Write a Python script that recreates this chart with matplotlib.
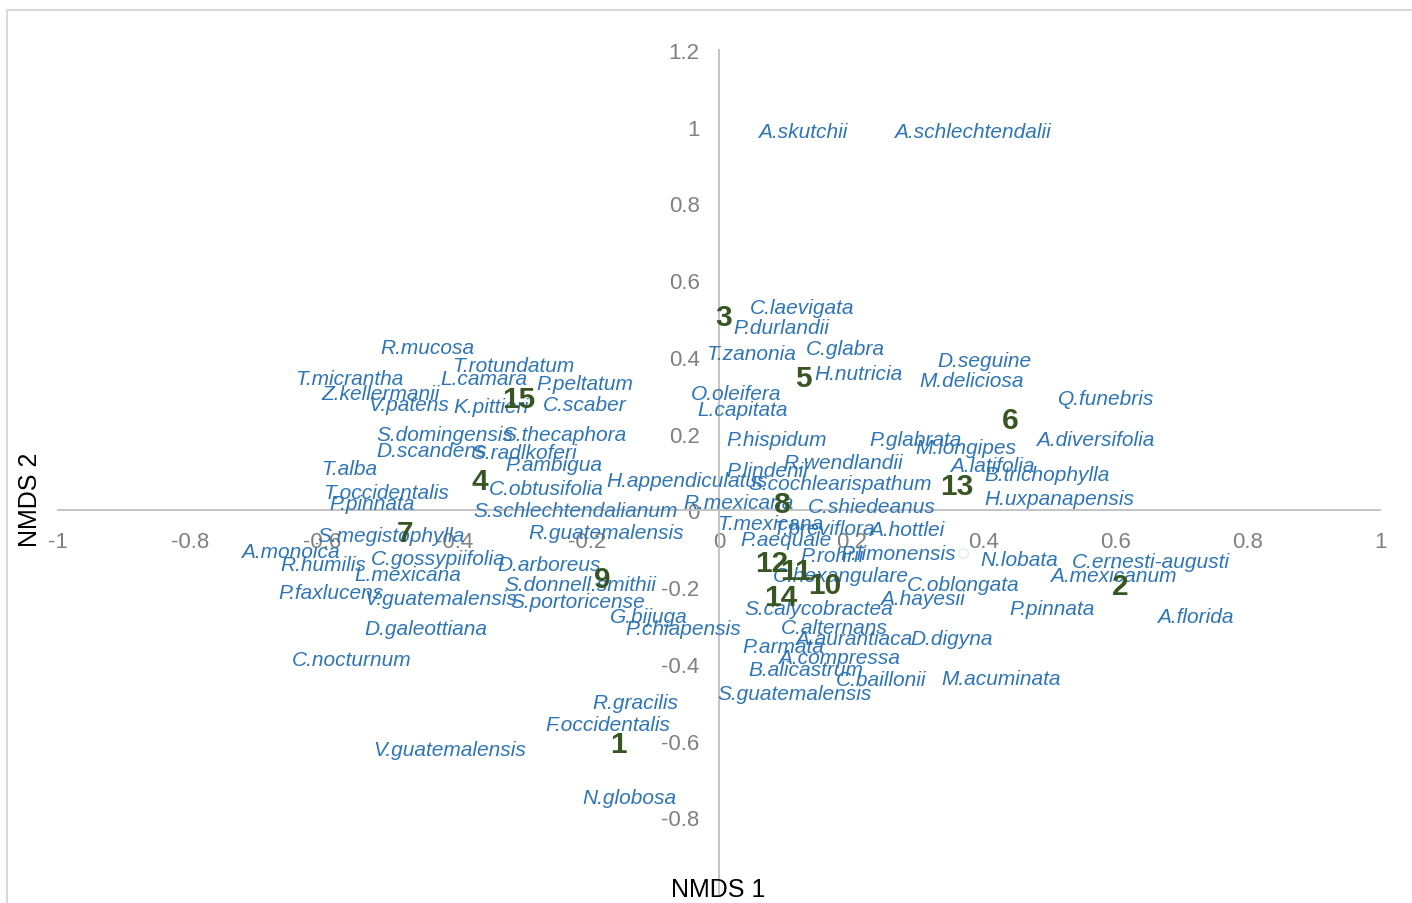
import matplotlib.pyplot as plt
import matplotlib.patches as patches
import numpy as np

plt.rcParams["font.family"] = ["Liberation Sans", "DejaVu Sans"]

# species labels (ordination scores, NMDS 1 / NMDS 2)
species = [
    "A.skutchii", "A.schlechtendalii", "C.laevigata", "P.durlandii", "R.mucosa",
    "T.zanonia", "C.glabra", "D.seguine", "T.rotundatum", "T.micrantha",
    "L.camara", "P.peltatum", "H.nutricia", "M.deliciosa", "Z.kellermanii",
    "O.oleifera", "Q.funebris", "V.patens", "K.pittieri", "C.scaber",
    "L.capitata", "S.domingensis", "S.thecaphora", "P.hispidum", "P.glabrata",
    "A.diversifolia", "M.longipes", "D.scandens", "S.radlkoferi", "P.ambigua",
    "R.wendlandii", "T.alba", "A.latifolia", "P.lindenii", "H.appendiculatus",
    "B.trichophylla", "C.obtusifolia", "S.cochlearispathum", "T.occidentalis",
    "P.pinnata", "H.uxpanapensis", "R.mexicana", "C.shiedeanus",
    "S.schlechtendalianum", "T.mexicana", "T.breviflora", "A.hottlei",
    "S.megistophylla", "R.guatemalensis", "P.aequale", "A.monoica", "P.rohrii",
    "P.limonensis", "N.lobata", "C.ernesti-augusti", "C.gossypiifolia",
    "R.humilis", "D.arboreus", "C.hexangulare", "L.mexicana", "A.mexicanum",
    "S.donnell.smithii", "C.oblongata", "P.faxlucens", "A.hayesii",
    "V.guatemalensis", "S.portoricense", "P.pinnata", "S.calycobractea",
    "A.florida", "G.bijuga", "P.chiapensis", "D.galeottiana", "C.alternans",
    "A.aurantiaca", "D.digyna", "P.armata", "A.compressa", "C.nocturnum",
    "B.alicastrum", "C.baillonii", "M.acuminata", "S.guatemalensis",
    "R.gracilis", "F.occidentalis", "V.guatemalensis", "N.globosa",
]
sp_x = [
    0.059, 0.265, 0.047, 0.021, -0.513,
    -0.020, 0.132, 0.330, -0.404, -0.641,
    -0.422, -0.277, 0.144, 0.303, -0.602,
    -0.042, 0.513, -0.530, -0.402, -0.266,
    -0.033, -0.519, -0.327, 0.011, 0.228,
    0.480, 0.297, -0.519, -0.374, -0.323,
    0.097, -0.602, 0.349, 0.011, -0.171,
    0.402, -0.348, 0.045, -0.599,
    -0.590, 0.402, -0.054, 0.135,
    -0.372, -0.003, 0.080, 0.227,
    -0.607, -0.289, 0.033, -0.723, 0.123,
    0.183, 0.396, 0.534, -0.526,
    -0.663, -0.336, 0.082, -0.551, 0.501,
    -0.324, 0.284, -0.667, 0.244,
    -0.537, -0.316, 0.440, 0.039,
    0.663, -0.165, -0.142, -0.536, 0.094,
    0.115, 0.289, 0.035, 0.089, -0.646,
    0.044, 0.177, 0.336, -0.002,
    -0.191, -0.262, -0.523, -0.207,
]
sp_y = [
    0.995, 0.995, 0.535, 0.483, 0.433,
    0.415, 0.428, 0.399, 0.384, 0.352,
    0.350, 0.339, 0.363, 0.345, 0.311,
    0.311, 0.298, 0.282, 0.277, 0.282,
    0.269, 0.204, 0.206, 0.193, 0.193,
    0.193, 0.170, 0.164, 0.157, 0.128,
    0.131, 0.117, 0.123, 0.110, 0.086,
    0.102, 0.063, 0.076, 0.055,
    0.026, 0.039, 0.029, 0.018,
    0.008, -0.026, -0.039, -0.042,
    -0.057, -0.050, -0.070, -0.099, -0.110,
    -0.104, -0.120, -0.125, -0.117,
    -0.133, -0.133, -0.162, -0.159, -0.162,
    -0.185, -0.185, -0.206, -0.222,
    -0.222, -0.230, -0.248, -0.248,
    -0.269, -0.269, -0.300, -0.300, -0.298,
    -0.326, -0.326, -0.347, -0.376, -0.381,
    -0.407, -0.433, -0.431, -0.470,
    -0.493, -0.551, -0.616, -0.742,
]

# site numbers
sites = ["3", "5", "15", "6", "4", "13", "8", "7", "12", "11", "9", "10", "2", "14", "1"]
site_x = [-0.006, 0.115, -0.328, 0.428, -0.374, 0.334, 0.083, -0.487, 0.054, 0.092, -0.189, 0.135, 0.595, 0.068, -0.165]
site_y = [0.512, 0.352, 0.298, 0.243, 0.084, 0.070, 0.023, -0.052, -0.131, -0.151, -0.172, -0.188, -0.191, -0.219, -0.603]

xticks = [-1, -0.8, -0.6, -0.4, -0.2, 0, 0.2, 0.4, 0.6, 0.8, 1]
yticks = [-0.8, -0.6, -0.4, -0.2, 0, 0.2, 0.4, 0.6, 0.8, 1, 1.2]

blue = "#2E75B6"
green = "#375623"
grey = "#808080"
axis_col = "#BFBFBF"

W, H = 1412, 904
fig = plt.figure(figsize=(W / 100, H / 100), dpi=100)
ax = fig.add_axes([58 / W, 9 / H, 1322 / W, 844 / H])
ax.set_xlim(-1, 1)
ax.set_ylim(-1, 1.2)

# axes crossing at the origin, excel style
for side in ["top", "right"]:
    ax.spines[side].set_visible(False)
ax.spines["left"].set_position(("data", 0))
ax.spines["bottom"].set_position(("data", 0))
for side in ["left", "bottom"]:
    ax.spines[side].set_color(axis_col)
    ax.spines[side].set_linewidth(1.3)

ax.set_xticks(xticks)
ax.set_yticks(yticks)
ax.set_xticklabels([f"{v:g}" for v in xticks])
ax.set_yticklabels([f"{v:g}" for v in yticks])
ax.tick_params(axis="x", length=0, pad=15, labelsize=16, labelcolor=grey)
ax.tick_params(axis="y", length=0, pad=14, labelsize=16, labelcolor=grey)

# labels sit a touch lower than a plain va="center" puts them
for name, x, y in zip(species, sp_x, sp_y):
    ax.annotate(name, (x, y), xytext=(0, -2), textcoords="offset points",
                ha="left", va="center", fontsize=15, style="italic", color=blue)

for name, x, y in zip(sites, site_x, site_y):
    ax.annotate(name, (x, y), xytext=(0, -2), textcoords="offset points",
                ha="left", va="center", fontsize=21.5, fontweight="bold", color=green)

# stray empty marker left in the original
ax.plot([0.369], [-0.112], "o", mfc="none", mec="#DDE6F0", ms=7, mew=0.8)

fig.text(718 / W, 1 - 890 / H, "NMDS 1", ha="center", va="center", fontsize=18, color="black")
fig.text(30 / W, 1 - 500 / H, "NMDS 2", ha="center", va="center", rotation=90, fontsize=18, color="black")

# chart area border (runs off the right and bottom edges)
fig.patches.append(
    patches.Rectangle((7 / W, -0.05), 1.1, 1 - 11 / H + 0.05, transform=fig.transFigure,
                      fill=False, edgecolor="#D9D9D9", linewidth=1.5, clip_on=False)
)

plt.savefig("out.png", dpi=100)
